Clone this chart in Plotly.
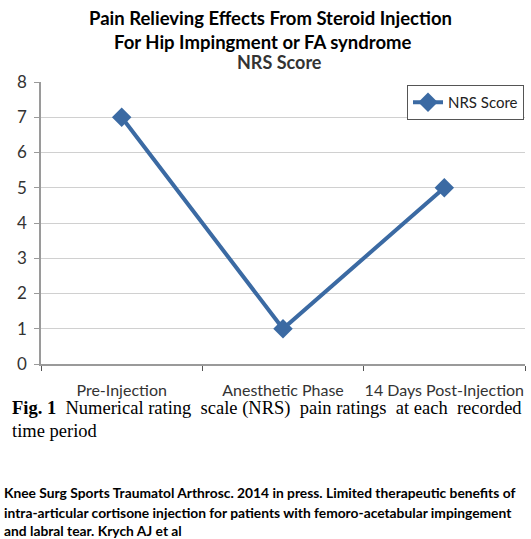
import plotly.graph_objects as go

categories = ["Pre-Injection", "Anesthetic Phase", "14 Days Post-Injection"]
nrs_scores = [7, 1, 5]
series_name = "NRS Score"
y_ticks = [0, 1, 2, 3, 4, 5, 6, 7, 8]

W, H = 531, 539
L, R, T, B = 41, 6, 82, 175
PH = H - T - B

def py(p):
    return (H - B - p) / PH

def px(p):
    return (p - L) / (W - L - R)

BLUE = "#3b6aa3"
SANS = "Lato, Open Sans, sans-serif"

fig = go.Figure()
fig.add_trace(go.Scatter(
    x=categories, y=nrs_scores, name=series_name, mode="lines+markers",
    line=dict(color=BLUE, width=4),
    marker=dict(symbol="diamond", size=15, color=BLUE),
    showlegend=True,
))

fig.update_layout(
    width=W, height=H,
    margin=dict(l=L, r=R, t=T, b=B, autoexpand=False),
    paper_bgcolor="white", plot_bgcolor="white",
    showlegend=True,
    legend=dict(x=px(407), y=py(85), xanchor="left", yanchor="top",
                bordercolor="#555555", borderwidth=1, bgcolor="white",
                font=dict(family=SANS, size=15, color="#222222"),
                itemwidth=30, tracegroupgap=0),
    xaxis=dict(type="category", range=[-0.5, 2.5], showgrid=False, automargin=False,
               showline=True, linecolor="#9a9a9a", linewidth=2,
               ticks="outside", tickson="boundaries", ticklen=5, tickcolor="#555555",
               ticklabelstandoff=11, tickangle=0,
               tickfont=dict(family=SANS, size=16, color="#333333"),
               zeroline=False),
    yaxis=dict(range=[0, 8], tickvals=y_ticks, showgrid=True, gridcolor="#d0d0d0", gridwidth=1,
               showline=True, linecolor="#9a9a9a", linewidth=1.5, automargin=False,
               ticks="outside", ticklen=5, tickcolor="#9a9a9a",
               ticklabelstandoff=4,
               tickfont=dict(family=SANS, size=17, color="#333333"),
               zeroline=False),
)

annos = [
    dict(text="<b>Pain Relieving Effects From Steroid Injection</b>", x=270, y=18,
         font=dict(family=SANS, size=18.5, color="black")),
    dict(text="<b>For Hip Impingment or FA syndrome</b>", x=263, y=42,
         font=dict(family=SANS, size=18.5, color="black")),
    dict(text="<b>NRS Score</b>", x=279, y=62,
         font=dict(family=SANS, size=18, color="#333333")),
]
for a in annos:
    fig.add_annotation(text=a["text"], xref="paper", yref="paper",
                       x=px(a["x"]), y=py(a["y"]), xanchor="center", yanchor="middle",
                       showarrow=False, font=a["font"])

caption_lines = [
    ("<b>Fig. 1</b>\u00a0 Numerical rating\u00a0 scale (NRS)\u00a0 pain ratings\u00a0 at each\u00a0 recorded", 408),
    ("time period", 431),
]
for txt, yy in caption_lines:
    fig.add_annotation(text=txt, xref="paper", yref="paper", x=px(10), y=py(yy),
                       xanchor="left", yanchor="middle", align="left", showarrow=False,
                       font=dict(family="Liberation Serif, Times New Roman, serif", size=18.5, color="black"))

ref_lines = [
    ("Knee Surg Sports Traumatol Arthrosc. 2014 in press. Limited therapeutic benefits of", 492),
    ("intra-articular cortisone injection for patients with femoro-acetabular impingement", 512),
    ("and labral tear. Krych AJ et al", 530),
]
for txt, yy in ref_lines:
    fig.add_annotation(text="<b>" + txt + "</b>", xref="paper", yref="paper", x=px(2), y=py(yy),
                       xanchor="left", yanchor="middle", align="left", showarrow=False,
                       font=dict(family=SANS, size=13.8, color="black"))

fig.write_html("out.html", config={"displayModeBar": False},
               post_script="document.body.style.margin='0px';document.body.style.overflow='hidden';")
